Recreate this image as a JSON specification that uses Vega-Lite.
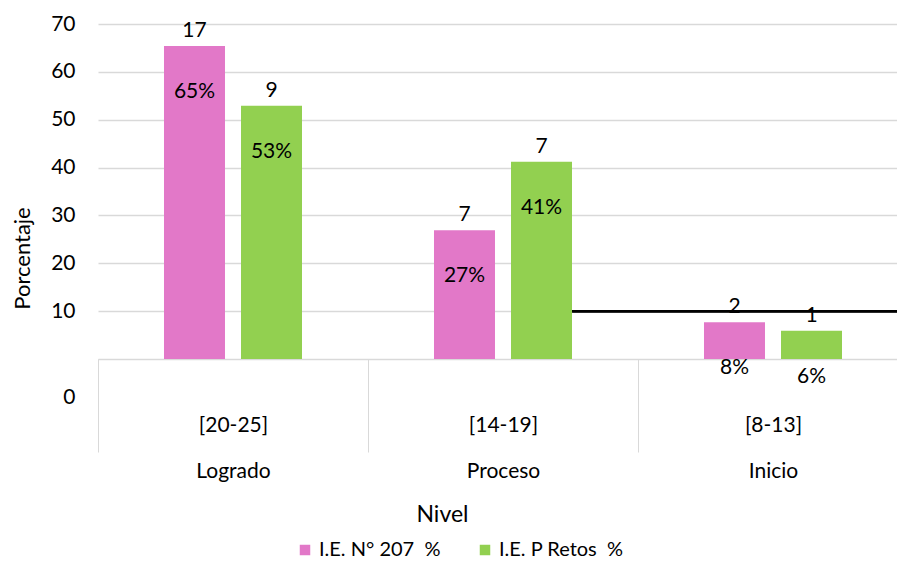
{
  "$schema": "https://vega.github.io/schema/vega-lite/v6.json",
  "autosize": {"type": "none"},
  "padding": {"left": 98, "top": 24, "right": 0, "bottom": 206},
  "width": 799,
  "height": 335,
  "config": {"view": {"stroke": null}, "font": "Lato", "text": {"font": "Lato"}},
  "data": {
    "values": [
      {"Categoria": "[20-25]|Logrado", "Serie": "I.E. N° 207\u00a0 %", "pct": 65.4, "n": 17, "etiqueta": "65%"},
      {"Categoria": "[20-25]|Logrado", "Serie": "I.E. P Retos\u00a0 %", "pct": 52.9, "n": 9, "etiqueta": "53%"},
      {"Categoria": "[14-19]|Proceso", "Serie": "I.E. N° 207\u00a0 %", "pct": 26.9, "n": 7, "etiqueta": "27%"},
      {"Categoria": "[14-19]|Proceso", "Serie": "I.E. P Retos\u00a0 %", "pct": 41.2, "n": 7, "etiqueta": "41%"},
      {"Categoria": "[8-13]|Inicio", "Serie": "I.E. N° 207\u00a0 %", "pct": 7.7, "n": 2, "etiqueta": "8%"},
      {"Categoria": "[8-13]|Inicio", "Serie": "I.E. P Retos\u00a0 %", "pct": 5.9, "n": 1, "etiqueta": "6%"}
    ]
  },
  "encoding": {
    "x": {
      "field": "Categoria",
      "type": "nominal",
      "sort": ["[20-25]|Logrado", "[14-19]|Proceso", "[8-13]|Inicio"],
      "scale": {"range": [0, 810], "paddingInner": 0, "paddingOuter": 0},
      "axis": {
        "title": "Nivel",
        "titleFontSize": 23,
        "titleFontWeight": "normal",
        "titleColor": "black",
        "titleX": 344,
        "titleY": 155,
        "titleBaseline": "middle",
        "titleAnchor": null,
        "domainColor": "#d9d9d9",
        "tickColor": "#d9d9d9",
        "tickBand": "extent",
        "tickSize": 93,
        "labelAngle": 0,
        "labelFontSize": 21,
        "labelColor": "black",
        "labelBaseline": "top",
        "labelPadding": -38,
        "labelLineHeight": 46,
        "labelExpr": "split(datum.label, '|')"
      }
    }
  },
  "layer": [
    {
      "mark": {"type": "bar"},
      "encoding": {
        "xOffset": {"field": "Serie", "sort": null, "scale": {"paddingInner": 0.208, "paddingOuter": 0.857}},
        "y": {
          "field": "pct",
          "type": "quantitative",
          "scale": {"domain": [0, 70], "nice": false},
          "axis": {
            "title": "Porcentaje",
            "values": [0, 10, 20, 30, 40, 50, 60, 70],
            "domain": false,
            "ticks": false,
            "gridColor": "#d9d9d9",
            "gridWidth": 1.5,
            "labelPadding": 23,
            "labelFontSize": 21,
            "labelColor": "black",
            "labelOffset": {"condition": {"test": "datum.value == 0", "value": 38}, "value": 0},
            "titleFontSize": 22,
            "titleFontWeight": "normal",
            "titleColor": "black",
            "titleX": -76,
            "titleY": 234,
            "titleAngle": -90,
            "titleAlign": "center",
            "titleBaseline": "middle"
          }
        },
        "color": {
          "field": "Serie",
          "type": "nominal",
          "sort": null,
          "scale": {"range": ["#E278C8", "#92D050"]},
          "legend": {
            "orient": "none",
            "legendX": 197,
            "legendY": 516,
            "direction": "horizontal",
            "title": null,
            "symbolType": "square",
            "symbolSize": 110,
            "symbolStrokeWidth": 0,
            "labelFontSize": 20,
            "labelColor": "black",
            "labelOffset": 4,
            "columnPadding": 34
          }
        }
      }
    },
    {
      "mark": {"type": "text", "fontSize": 21, "dy": -15, "baseline": "middle", "color": "black"},
      "encoding": {
        "xOffset": {"field": "Serie", "sort": null},
        "y": {"field": "pct", "type": "quantitative"},
        "text": {"field": "n"}
      }
    },
    {
      "mark": {"type": "text", "fontSize": 21, "dy": 46, "baseline": "middle", "color": "black"},
      "encoding": {
        "xOffset": {"field": "Serie", "sort": null},
        "y": {"field": "pct", "type": "quantitative"},
        "text": {"field": "etiqueta"}
      }
    },
    {
      "mark": {"type": "rule", "color": "black", "strokeWidth": 2},
      "encoding": {
        "x": {"datum": "[14-19]|Proceso", "bandPosition": 0.756},
        "x2": {"value": "width"},
        "y": {"datum": 10}
      }
    }
  ]
}
